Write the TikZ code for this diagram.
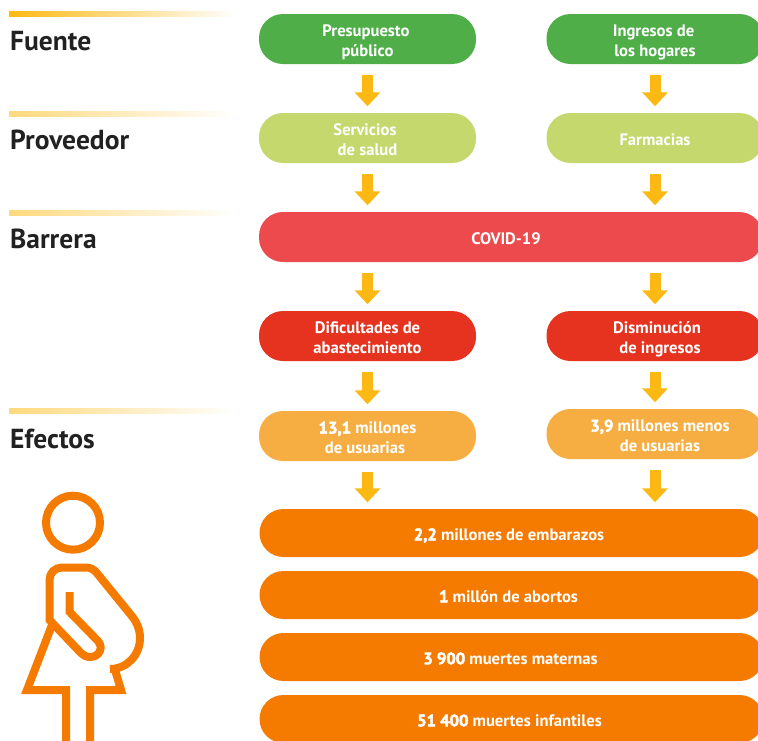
\documentclass[tikz,border=0pt]{standalone}
\usepackage{fontspec}
\setmainfont{PT Sans}
\newfontfamily\gruesa{PT Sans}[BoldFeatures={FakeBold=3}]
\usetikzlibrary{positioning,arrows.meta}
\definecolor{verde}{HTML}{4FAE48}
\definecolor{lima}{HTML}{C5D86D}
\definecolor{rosa}{HTML}{EC4A4C}
\definecolor{rojo}{HTML}{E5331F}
\definecolor{claro}{HTML}{F6AE42}
\definecolor{naranja}{HTML}{F57A00}
\definecolor{ambar}{HTML}{FDB913}
\newcommand{\cifra}[1]{{\gruesa\bfseries #1}}
\newcommand{\corre}[1]{\hspace*{#1}}
\tikzset{
	caja/.style={rounded corners=24pt,minimum height=50pt,inner sep=0pt,align=center,text=white,font=\fontsize{16.6}{20}\selectfont\bfseries,execute at begin node={\rule[-4pt]{0pt}{22.5pt}}},
	dos/.style={execute at begin node={\rule[-4pt]{0pt}{43pt}}},
	angosta/.style={caja,minimum width=217pt},
	ancha/.style={caja,minimum width=504pt},
	efecto/.style={ancha,fill=naranja,minimum height=48pt},
	flecha/.style={draw=ambar,line width=11pt,-{Triangle[width=25pt,length=14pt]},shorten <=11pt,shorten >=6.5pt},
	etiqueta/.style={anchor=west,inner sep=0pt,text=black!87,font=\fontsize{27.5}{30}\selectfont\bfseries},
	barra/.style={left color=ambar!55,right color=white,draw=none},
	silueta/.style={draw=naranja,line width=8pt,fill=none,miter limit=4}
}
\begin{document}
\begin{tikzpicture}[x=1pt,y=-1pt]
		\clip (0,0) rectangle (758,740);

		%bars
		\shade[barra,left color=ambar] (9,11) rectangle (235,16);
		\shade[barra] (9,111) rectangle (235,116);
		\shade[barra] (9,210) rectangle (235,215);
		\shade[barra] (9,408) rectangle (235,413);

		%left labels
		\node[etiqueta] (l1) at (10,41) {Fuente};
		\node[etiqueta] (l2) at (10,140) {Proveedor};
		\node[etiqueta] (l3) at (10,239) {Barrera};
		\node[etiqueta] (l4) at (10,439) {Efectos};

		%left column
		\node[angosta,dos,fill=verde] (n1) at (367.5,39) {\corre{-3pt}Presupuesto\\público};
		\node[angosta,dos,fill=lima] (n2) at (367.5,138) {\corre{-5pt}Servicios\\de salud};
		\node[angosta,dos,fill=rojo] (n3) at (367.5,336) {Dificultades de\\abastecimiento};
		\node[angosta,dos,fill=claro] (n4) at (367.5,436) {\cifra{13,1} millones\\\corre{-5pt}de usuarias};

		%right column
		\node[angosta,dos,fill=verde] (m1) at (655,39) {\corre{-3pt}Ingresos de\\los hogares};
		\node[angosta,fill=lima] (m2) at (655,138) {Farmacias};
		\node[angosta,dos,fill=rojo] (m3) at (655,336) {\corre{4pt}Disminución\\\corre{10pt}de ingresos};
		\node[angosta,dos,fill=claro] (m4) at (655,434) {\corre{10pt}\cifra{3,9} millones menos\\\corre{10pt}de usuarias};

		%wide boxes
		\node[ancha,fill=rosa] (c1) at (511,237) {\corre{-10pt}COVID-19};
		\node[efecto] (e1) at (511.5,533) {\corre{-5pt}\cifra{2,2} millones de embarazos};
		\node[efecto] (e2) at (511.5,595) {\corre{-6pt}\cifra{1} millón de abortos};
		\node[efecto] (e3) at (511.5,657) {\corre{-2pt}\cifra{3 900} muertes maternas};
		\node[efecto] (e4) at (511.5,719) {\corre{-4pt}\cifra{51 400} muertes infantiles};

		%arrows
		\draw[flecha] (n1) -- (n2);
		\draw[flecha] (m1) -- (m2);
		\draw[flecha] (n2.south) -- (n2.south |- c1.north);
		\draw[flecha] (m2.south) -- (m2.south |- c1.north);
		\draw[flecha] (n3.north |- c1.south) -- (n3.north);
		\draw[flecha] (m3.north |- c1.south) -- (m3.north);
		\draw[flecha] (n3) -- (n4);
		\draw[flecha] (m3) -- (m4);
		\draw[flecha] (n4.south) -- (n4.south |- e1.north);
		\draw[flecha] (m4.south) -- (m4.south |- e1.north);

		%figure
		\draw[silueta] (73,522.7) circle (27);
		\draw[silueta] (69.7,592) -- (69.7,612) -- (98,641) .. controls (104,648) and (99,657) .. (90,657) .. controls (86,657) and (83,655) .. (81,653) -- (49.5,620) -- (49.5,580) .. controls (49.5,573) and (55,567.5) .. (62,567.5) -- (86,567.5) .. controls (90,567.5) and (93,569) .. (96,572) -- (131,615) .. controls (137,622) and (140,630) .. (140,638) .. controls (140,655) and (127,669) .. (110,669);
		\draw[silueta] (114.5,668) -- (121,690) -- (90,690) -- (90,745);
		\draw[silueta] (52,625) -- (27,690) -- (66,690) -- (66,745);
\end{tikzpicture}
\end{document}
